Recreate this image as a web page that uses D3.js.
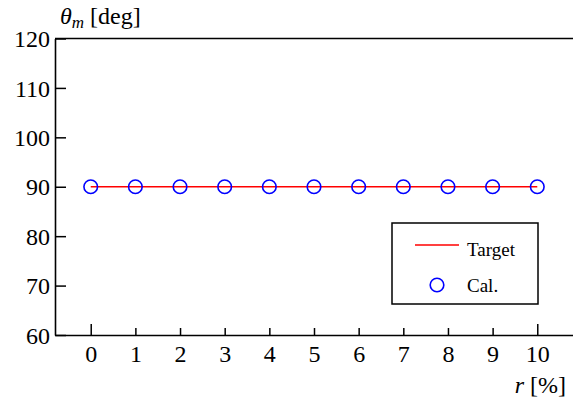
<!DOCTYPE html>
<html>
<head>
<meta charset="utf-8">
<script src="https://cdn.jsdelivr.net/npm/d3@7"></script>
<style>
  html, body { margin: 0; padding: 0; background: #fff; }
  svg { display: block; }
  svg text { font-family: "Liberation Serif", "Times New Roman", Times, serif; }
</style>
</head>
<body>
<svg id="chart" width="573" height="405"></svg>
<script>
// Ratio r [%] and the resulting angle theta_m [deg]
const rValues = [0, 1, 2, 3, 4, 5, 6, 7, 8, 9, 10];
const targetValues = [90, 90, 90, 90, 90, 90, 90, 90, 90, 90, 90];
const calValues = [90, 90, 90, 90, 90, 90, 90, 90, 90, 90, 90];
const yTicks = [60, 70, 80, 90, 100, 110, 120];
const xTicks = [0, 1, 2, 3, 4, 5, 6, 7, 8, 9, 10];
const legendLabels = ["Target", "Cal."];

const W = 573, H = 405;
const plot = { left: 55, right: 573, top: 38.5, bottom: 335 };

const svg = d3.select("#chart");

const x = d3.scaleLinear().domain([-0.8, 10.8]).range([plot.left, plot.right]);
const y = d3.scaleLinear().domain([60, 120]).range([plot.bottom, plot.top]);

// Y axis: inward ticks, labels to the left
const yAxis = svg.append("g")
  .attr("transform", `translate(${plot.left},0)`)
  .call(d3.axisLeft(y).tickValues(yTicks).tickSizeInner(-11).tickSizeOuter(0).tickPadding(5));
yAxis.attr("font-family", null);
yAxis.select(".domain").attr("stroke", "#000").attr("stroke-width", 1.6);
yAxis.selectAll(".tick line").attr("stroke", "#000").attr("stroke-width", 1.5);
yAxis.selectAll(".tick text")
  .attr("font-size", 24).attr("fill", "#000")
  .attr("dy", "0.34em");

// X axis: inward ticks, longer at both ends
const xAxis = svg.append("g")
  .attr("transform", `translate(0,${plot.bottom})`)
  .call(d3.axisBottom(x).tickValues(xTicks).tickSizeInner(-7).tickSizeOuter(0).tickPadding(10));
xAxis.attr("font-family", null);
xAxis.select(".domain").attr("stroke", "#000").attr("stroke-width", 1.6);
xAxis.selectAll(".tick line")
  .attr("stroke", "#000").attr("stroke-width", 1.5)
  .attr("y2", d => (d === 0 || d === 10) ? -11 : -7);
xAxis.selectAll(".tick text")
  .attr("font-size", 24).attr("fill", "#000");

// Top frame line
svg.append("line")
  .attr("x1", plot.left).attr("x2", plot.right)
  .attr("y1", y(120)).attr("y2", y(120))
  .attr("stroke", "#000").attr("stroke-width", 1.6);

// Target line
const line = d3.line().x((d, i) => x(rValues[i])).y(d => y(d));
svg.append("path")
  .datum(targetValues)
  .attr("d", line)
  .attr("fill", "none").attr("stroke", "#ff0000").attr("stroke-width", 1.6);

// Calculated points
svg.append("g").selectAll("circle")
  .data(calValues)
  .join("circle")
  .attr("cx", (d, i) => x(rValues[i]))
  .attr("cy", d => y(d))
  .attr("r", 6.8)
  .attr("fill", "none").attr("stroke", "#0000ff").attr("stroke-width", 1.6);

// Axis titles
const yTitle = svg.append("text")
  .attr("x", 60).attr("y", 24)
  .attr("font-size", 24).attr("fill", "#000");
yTitle.append("tspan").attr("font-style", "italic").text("θ");
yTitle.append("tspan").attr("font-style", "italic").attr("font-size", 17).attr("dy", 4).text("m");
yTitle.append("tspan").attr("dy", -4).text(" [deg]");

const xTitle = svg.append("text")
  .attr("x", 566).attr("y", 393)
  .attr("text-anchor", "end")
  .attr("font-size", 24).attr("fill", "#000");
xTitle.append("tspan").attr("font-style", "italic").text("r");
xTitle.append("tspan").text(" [%]");

// Legend
const legend = svg.append("g");
legend.append("rect")
  .attr("x", 392).attr("y", 223).attr("width", 146).attr("height", 81)
  .attr("fill", "#fff").attr("stroke", "#000").attr("stroke-width", 1.5);
legend.append("line")
  .attr("x1", 415).attr("x2", 459).attr("y1", 245).attr("y2", 245)
  .attr("stroke", "#ff0000").attr("stroke-width", 1.6);
legend.append("circle")
  .attr("cx", 437).attr("cy", 285).attr("r", 6.8)
  .attr("fill", "none").attr("stroke", "#0000ff").attr("stroke-width", 1.6);
legend.selectAll("text.lbl")
  .data(legendLabels)
  .join("text")
  .attr("class", "lbl")
  .attr("x", 467).attr("y", (d, i) => i === 0 ? 256 : 292)
  .attr("font-size", 19).attr("fill", "#000")
  .text(d => d);
</script>
</body>
</html>
